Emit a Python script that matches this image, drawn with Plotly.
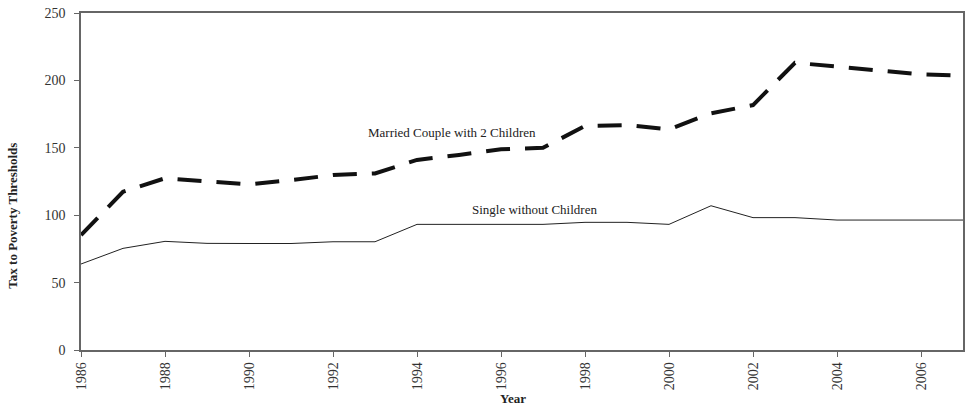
import plotly.graph_objects as go

years = list(range(1986, 2008))
married = [85.3, 117.4, 127.4, 124.9, 122.9, 126.0, 129.8, 131.0, 141.0, 144.7, 148.9,
           150.0, 166.2, 166.9, 163.7, 175.6, 181.7, 213.1, 210.2, 207.2, 204.5, 203.5]
single = [63.8, 75.4, 80.6, 79.1, 79.0, 79.0, 80.3, 80.3, 93.2, 93.2, 93.2,
          93.2, 94.7, 94.7, 93.2, 107.0, 98.2, 98.2, 96.4, 96.4, 96.4, 96.4]
x_ticks = list(range(1986, 2008, 2))
y_ticks = [0, 50, 100, 150, 200, 250]

FONT = "Liberation Serif"

fig = go.Figure()
fig.add_trace(go.Scatter(x=years, y=single, mode="lines",
                         line=dict(color="#222222", width=1), showlegend=False))
fig.add_trace(go.Scatter(x=years, y=married, mode="lines",
                         line=dict(color="#111111", width=4, dash="24px,15px"), showlegend=False))

fig.add_annotation(x=1994.84, y=161.3, text="Married Couple with 2 Children", showarrow=False,
                   font=dict(family=FONT, size=13, color="#222222"))
fig.add_annotation(x=1996.8, y=104.0, text="Single without Children", showarrow=False,
                   font=dict(family=FONT, size=13, color="#222222"))
# axis titles
fig.add_annotation(xref="paper", yref="paper", x=0.49, y=-0.145, text="<b>Year</b>",
                   showarrow=False, xanchor="center", yanchor="middle",
                   font=dict(family=FONT, size=13, color="#222222"))
fig.add_annotation(xref="paper", yref="paper", x=-0.0777, y=0.40, text="<b>Tax to Poverty Thresholds</b>",
                   showarrow=False, xanchor="center", yanchor="middle", textangle=-90,
                   font=dict(family=FONT, size=13, color="#222222"))

fig.update_layout(
    width=968, height=412,
    margin=dict(l=81, r=5, t=13, b=62),
    plot_bgcolor="white", paper_bgcolor="white",
    font=dict(family=FONT, size=14, color="#333333"),
)
fig.update_xaxes(range=[1986, 2007], tickvals=x_ticks, ticktext=[str(v) for v in x_ticks],
                 tickangle=-90, ticks="outside", ticklen=5, tickcolor="#666666",
                 showline=True, linecolor="#666666", linewidth=1.5, mirror=True,
                 showgrid=False, zeroline=False, automargin=False,
                 tickfont=dict(family=FONT, size=14, color="#333333"))
fig.update_yaxes(range=[0, 250], tickvals=y_ticks, ticks="outside", ticklen=5, tickcolor="#666666",
                 showline=True, linecolor="#666666", linewidth=1.5, mirror=True,
                 showgrid=False, zeroline=False, automargin=False, ticklabelstandoff=6,
                 tickfont=dict(family=FONT, size=14, color="#333333"))

fig.write_html("out.html", config={"displayModeBar": False},
               post_script="document.body.style.margin='0';document.body.style.overflow='hidden';")
